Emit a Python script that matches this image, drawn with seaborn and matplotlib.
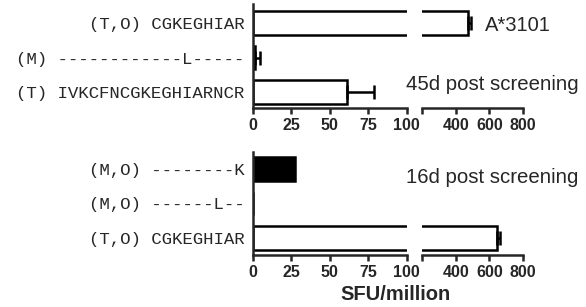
import matplotlib
matplotlib.use("Agg")
import matplotlib.pyplot as plt
import seaborn as sns
import numpy as np

sns.set_style("ticks")
plt.rcParams['font.family'] = ['Liberation Sans', 'DejaVu Sans']

# ---- data ----
top_labels = ["(T,O) CGKEGHIAR", "(M) ------------L-----", "(T) IVKCFNCGKEGHIARNCR"]
top_values = [475, 1.5, 61]
top_errors = [15, 3.5, 18]
top_colors = ["white", "white", "white"]

bot_labels = ["(M,O) --------K", "(M,O) ------L--", "(T,O) CGKEGHIAR"]
bot_values = [27.5, 0.5, 648]
bot_errors = [0, 0, 14]
bot_colors = ["black", "white", "white"]

left_ticks = [0, 25, 50, 75, 100]
right_ticks = [200, 400, 600, 800]
right_ticklabels = ["", "400", "600", "800"]

W, H = 586, 307
fig = plt.figure(figsize=(W / 100, H / 100), dpi=100)


def px_axes(x0, x1, y0, y1):
    return fig.add_axes([x0 / W, 1 - y1 / H, (x1 - x0) / W, (y1 - y0) / H])


def draw_panel(y0, y1, labels, values, errors, colors, ylim):
    axl = px_axes(252.5, 406.7, y0, y1)
    axr = px_axes(422.3, 523.0, y0, y1)
    pal = dict(zip(labels, colors))
    for ax in (axl, axr):
        sns.barplot(x=values, y=labels, hue=labels, palette=pal, legend=False,
                    orient="h", ax=ax, width=0.68, edgecolor="black",
                    linewidth=1.8, errorbar=None, saturation=1)
        errs = np.array(errors, dtype=float)
        mask = errs > 0
        ypos = np.arange(len(values))[mask]
        ax.errorbar(np.array(values)[mask], ypos,
                    xerr=[np.zeros(mask.sum()), errs[mask]],
                    fmt="none", ecolor="black", elinewidth=1.8,
                    capsize=5, capthick=1.8)
        ax.set_ylim(*ylim)
        ax.set_xlabel("")
        ax.set_ylabel("")
        for s in ("top", "right"):
            ax.spines[s].set_visible(False)
        ax.spines["bottom"].set_linewidth(1.8)
        ax.spines["left"].set_linewidth(1.8)
        ax.tick_params(axis="x", length=4, width=1.8, pad=3)
    axl.set_xlim(0, 100)
    axl.set_xticks(left_ticks)
    axl.set_xticklabels([str(t) for t in left_ticks], fontsize=11.5, fontweight="bold")
    axl.tick_params(axis="y", length=0, pad=6)
    for t in axl.get_yticklabels():
        t.set_fontfamily(["Liberation Mono", "DejaVu Sans Mono"])
        t.set_fontsize(12.5)
    axr.set_xlim(200, 800)
    axr.set_xticks(right_ticks)
    axr.set_xticklabels(right_ticklabels, fontsize=11.5, fontweight="bold")
    axr.spines["left"].set_visible(False)
    axr.set_yticks([])
    return axl, axr


draw_panel(4, 108, top_labels, top_values, top_errors, top_colors, (2.46, -0.55))
draw_panel(152, 255, bot_labels, bot_values, bot_errors, bot_colors, (2.49, -0.49))


def ftext(x, y, s, **kw):
    fig.text(x / W, 1 - y / H, s, va="baseline", **kw)


ftext(485, 31, "A*3101", fontsize=14.5)
ftext(406, 90, "45d post screening", fontsize=14.7)
ftext(406, 183, "16d post screening", fontsize=14.7)
ftext(396, 300, "SFU/million", fontsize=14.5, fontweight="bold", ha="center")

fig.savefig("out.png", dpi=100)
